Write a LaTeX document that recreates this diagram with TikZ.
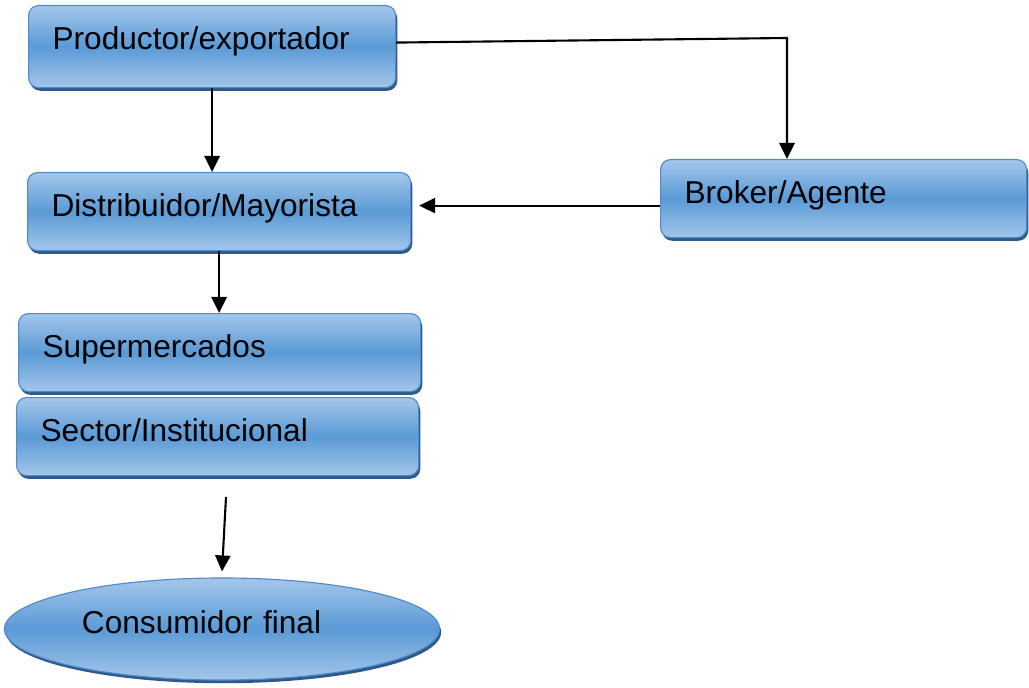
\documentclass[tikz,border=0pt]{standalone}
\usepackage{fontspec}
\setmainfont{Liberation Sans}
\usetikzlibrary{arrows.meta,shapes.geometric,shadows}
\definecolor{boxlight}{HTML}{A4C6EA}
\definecolor{boxmid}{HTML}{5A9AD6}
\definecolor{boxline}{HTML}{4F8ACB}
\definecolor{boxshadow}{HTML}{2E5A8A}
\begin{document}
\begin{tikzpicture}[x=0.025cm, y=-0.025cm,
        actor/.style={rectangle, rounded corners=0.25cm, draw=boxline, line width=0.8pt,
            top color=boxlight, bottom color=boxlight, middle color=boxmid,
            drop shadow={shadow xshift=0.04cm, shadow yshift=-0.08cm, fill=boxshadow, opacity=1},
            anchor=north west, inner xsep=0.6cm, inner ysep=0pt, align=left,
            text height=1.1cm, text depth=0.85cm,
            font=\fontsize{22.5}{27}\selectfont},
        consumer/.style={ellipse, draw=boxline, line width=0.8pt,
            top color=boxlight, bottom color=boxlight, middle color=boxmid,
            drop shadow={shadow xshift=0.04cm, shadow yshift=-0.08cm, fill=boxshadow, opacity=1},
            inner sep=0pt, minimum width=10.875cm, minimum height=2.55cm,
            text width=7cm, text depth=0.35cm, align=left, font=\fontsize{22.5}{27}\selectfont},
        arrow/.style={-{Triangle[length=0.4cm, width=0.38cm]}, line width=1.5pt}
    ]
        \useasboundingbox (0,0) rectangle (1029,688);

        % Cadena principal
        \node[actor, text width=7.975cm, text depth=0.95cm] (prod) at (28,5) {Productor/exportador};
        \node[actor, text width=8.375cm] (dist) at (27,172) {Distribuidor/Mayorista};
        \node[actor, text width=8.85cm] (super) at (18,313) {Supermercados};
        \node[actor, text width=8.85cm] (sector) at (16,397) {Sector/Institucional};
        \node[consumer] (cons) at (222,629) {Consumidor final};

        % Intermediario
        \node[actor, text width=7.95cm] (broker) at (660,159) {Broker/Agente};

        % Conexiones
        \coordinate (bend) at (787,38);
        \coordinate (gap) at (226,497);
        \draw[arrow] (prod.south) -- (prod.south |- dist.north);
        \draw[arrow] ([yshift=0.1cm]prod.east) -- (bend) -- (bend |- broker.north);
        \draw[arrow] ([yshift=-0.175cm]broker.west) -- ([xshift=0.2cm,yshift=-0.175cm]broker.west -| dist.east);
        \draw[arrow] (dist.south) -- (dist.south |- super.north);
        \draw[arrow] (gap) -- ([yshift=0.15cm]cons.north);
    \end{tikzpicture}
\end{document}
